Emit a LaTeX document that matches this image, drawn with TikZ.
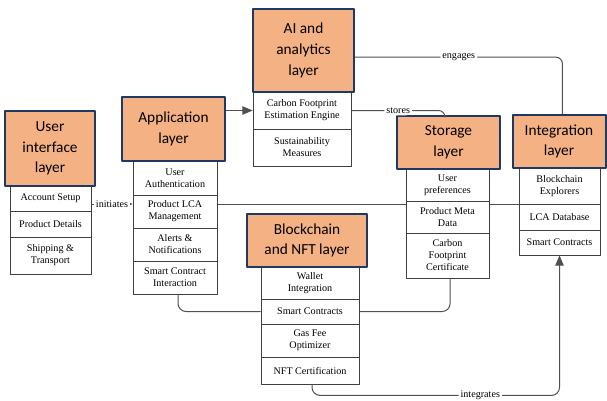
\documentclass[tikz,border=0pt]{standalone}
\usepackage{fontspec}
\setmainfont{Liberation Serif}
\newfontfamily\headfont{Carlito}
\usepackage{tikz}
\usetikzlibrary{arrows,backgrounds}
\definecolor{layerfill}{HTML}{F4B183}
\definecolor{layerline}{HTML}{1F3864}
\definecolor{linkgray}{HTML}{505050}

\begin{document}
\begin{tikzpicture}[line join=round,>=triangle 45,x=0.75pt,y=-0.75pt,
  layer/.style={draw=layerline,line width=1.5pt,fill=layerfill,align=center,inner sep=0pt,
    font=\headfont\fontsize{11.5}{15.5}\selectfont},
  item/.style={draw=black!75,line width=0.6pt,fill=white,align=center,inner sep=0pt,
    font=\fontsize{7.6}{9}\selectfont},
  link/.style={draw=linkgray,line width=0.75pt},
  lbl/.style={fill=white,inner sep=1.5pt,font=\fontsize{7.6}{9}\selectfont},
  wd/.style={minimum width=#1*0.75pt},
  ht/.style={minimum height=#1*0.75pt}]
\useasboundingbox (0,0) rectangle (607,400);
% user interface layer
\node[item,wd=81,ht=25] (uiacc) at (50.5,198.5) {Account Setup};
\node[item,wd=81,ht=26] (uiprod) at (50.5,224) {Product Details};
\node[item,wd=81,ht=37] (uiship) at (50.5,255.5) {Shipping \&\\Transport};
\node[layer,wd=90,ht=75] (uihead) at (50,148.5) {User\\interface\\layer};
% application layer
\node[item,wd=84,ht=34] (appauth) at (175,178) {User\\Authentication};
\node[item,wd=84,ht=33] (applca) at (175,211.5) {Product LCA\\Management};
\node[item,wd=84,ht=33] (appalert) at (175,244.5) {Alerts \&\\Notifications};
\node[item,wd=84,ht=33] (appsc) at (175,277.5) {Smart Contract\\Interaction};
\node[layer,wd=103,ht=64] (apphead) at (173.5,129) {Application\\layer};
% ai and analytics layer
\node[item,wd=98,ht=37] (aicfe) at (302,110.5) {Carbon Footprint\\Estimation Engine};
\node[item,wd=98,ht=37] (aisus) at (302,147.5) {Sustainability\\Measures};
\node[layer,wd=101,ht=83] (aihead) at (303.5,50.5) {AI and\\analytics\\layer};
% storage layer
\node[item,wd=83,ht=32] (stpref) at (447.5,185) {User\\preferences};
\node[item,wd=83,ht=32] (stmeta) at (447.5,217) {Product Meta\\Data};
\node[item,wd=83,ht=45] (stcert) at (447.5,255.5) {Carbon\\Footprint\\Certificate};
\node[layer,wd=103,ht=53] (sthead) at (448.5,142.5) {Storage\\layer};
% integration layer
\node[item,wd=81,ht=36] (intexp) at (559.5,186) {Blockchain\\Explorers};
\node[item,wd=81,ht=26] (intlca) at (559.5,217) {LCA Database};
\node[item,wd=81,ht=25] (intsc) at (559.5,242.5) {Smart Contracts};
\node[layer,wd=93,ht=53] (inthead) at (559,141.5) {Integration\\layer};
% blockchain and nft layer
\node[item,wd=98,ht=32] (bcwallet) at (310,283) {Wallet\\Integration};
\node[item,wd=98,ht=25] (bcsc) at (310,311.5) {Smart Contracts};
\node[item,wd=98,ht=33] (bcgas) at (310,340.5) {Gas Fee\\Optimizer};
\node[item,wd=98,ht=27] (bcnft) at (310,370.5) {NFT Certification};
\node[layer,wd=120,ht=53] (bchead) at (307,240.5) {Blockchain\\and NFT layer};
% connectors
\coordinate (lcaline) at (0,204);
\begin{pgfonlayer}{background}
\fill[white] (0,0) rectangle (607,400);
\draw[link] (applca.east |- lcaline) -- (intlca.west |- lcaline);
\end{pgfonlayer}
\draw[link,->] (uiacc.east |- lcaline) -- node[lbl]{initiates} (applca.west |- lcaline);
\draw[link,->] (apphead.east |- aicfe.west) -- (aicfe.west);
\draw[link,rounded corners=5pt] ([yshift=-5pt]aihead.east) -| node[lbl,pos=0.25]{engages} ([xshift=2.6pt]inthead.north);
\draw[link,rounded corners=5pt] (aicfe.east) -| node[lbl,pos=0.25]{stores} ([xshift=-2.6pt]sthead.north);
\draw[link,rounded corners=6pt] ([xshift=2.25pt]appsc.south) |- (bcsc.west);
\draw[link,rounded corners=6pt] (bcsc.east) -| ([xshift=2pt]stcert.south);
\draw[link,->,rounded corners=6pt] ([xshift=1.5pt]bcnft.south) -- ++(0,11) -| node[lbl,pos=0.34]{integrates} (intsc.south);
\end{tikzpicture}
\end{document}
